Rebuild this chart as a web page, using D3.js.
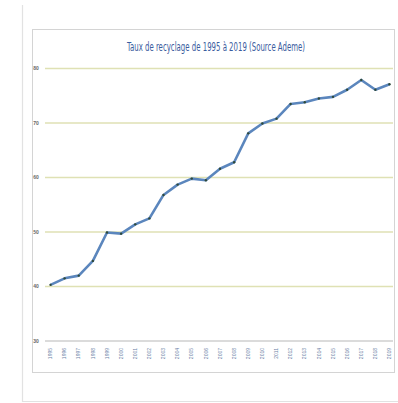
<!DOCTYPE html>
<html>
<head>
<meta charset="utf-8">
<script src="https://cdn.jsdelivr.net/npm/d3@7"></script>
<style>
  body { margin: 0; background: #fff; }
</style>
</head>
<body>
<svg id="chart" width="398" height="403"></svg>
<script>
// data
var years = ["1995","1996","1997","1998","1999","2000","2001","2002","2003","2004","2005","2006","2007",
             "2008","2009","2010","2011","2012","2013","2014","2015","2016","2017","2018","2019"];
var rates = [40.3, 41.5, 42.0, 44.7, 49.9, 49.7, 51.4, 52.5, 56.8, 58.7, 59.8, 59.5, 61.6,
             62.8, 68.1, 69.9, 70.8, 73.5, 73.8, 74.5, 74.8, 76.1, 77.9, 76.1, 77.1];
var yTicks = [30, 40, 50, 60, 70, 80];
var title = "Taux de recyclage de 1995 à 2019 (Source Ademe)";

var svg = d3.select("#chart");

// outer page frame
svg.append("path")
    .attr("d", "M22.5,5 V401.5 H398")
    .style("fill", "none")
    .style("stroke", "#e2e2e2")
    .style("stroke-width", 1.2);

// chart box
svg.append("rect")
    .attr("x", 32.5)
    .attr("y", 29.5)
    .attr("width", 362)
    .attr("height", 343)
    .style("fill", "#fff")
    .style("stroke", "#d4d4d4")
    .style("stroke-width", 1);

var x = d3.scalePoint().domain(years).range([50.5, 389.5]);
var y = d3.scaleLinear().domain([30, 80]).range([341, 68.5]);

// title - squeezed to the narrow look of the original
svg.append("text")
    .attr("x", 216)
    .attr("y", 51)
    .attr("text-anchor", "middle")
    .attr("textLength", 178)
    .attr("lengthAdjust", "spacingAndGlyphs")
    .style("font-family", "'Liberation Sans Narrow', 'DejaVu Sans Condensed', sans-serif")
    .style("font-size", "11.5px")
    .style("fill", "#3b5c9e")
    .text(title);

// gridlines
svg.append("g").selectAll("line")
    .data(yTicks)
    .enter().append("line")
    .attr("x1", 45)
    .attr("x2", 393)
    .attr("y1", function(d) { return y(d); })
    .attr("y2", function(d) { return y(d); })
    .style("stroke", function(d) { return d === 30 ? "#cfcfcf" : "#dfe1b4"; })
    .style("stroke-width", 1.4);

// y labels
svg.append("g").selectAll("text")
    .data(yTicks)
    .enter().append("text")
    .attr("x", 36)
    .attr("y", function(d) { return y(d) + 1.8; })
    .attr("text-anchor", "middle")
    .style("font-family", "'Liberation Sans Narrow', sans-serif")
    .style("font-size", "5px")
    .style("font-weight", "bold")
    .style("fill", "#666")
    .text(function(d) { return d; });

// x labels, rotated
svg.append("g").selectAll("text")
    .data(years)
    .enter().append("text")
    .attr("transform", function(d) { return "translate(" + (x(d) + 1.7) + ",348) rotate(-90)"; })
    .attr("text-anchor", "end")
    .style("font-family", "'Liberation Sans Narrow', sans-serif")
    .style("font-size", "5px")
    .style("fill", "#6a7fa6")
    .text(function(d) { return d; });

// line
var line = d3.line()
    .x(function(d, i) { return x(years[i]); })
    .y(function(d) { return y(d); });

svg.append("path")
    .datum(rates)
    .attr("d", line)
    .style("fill", "none")
    .style("stroke", "#5b86bd")
    .style("stroke-width", 2.6)
    .style("stroke-linejoin", "round");

svg.append("g").selectAll("circle")
    .data(rates)
    .enter().append("circle")
    .attr("cx", function(d, i) { return x(years[i]); })
    .attr("cy", function(d) { return y(d); })
    .attr("r", 1.2)
    .style("fill", "#2f4a3a");
</script>
</body>
</html>
